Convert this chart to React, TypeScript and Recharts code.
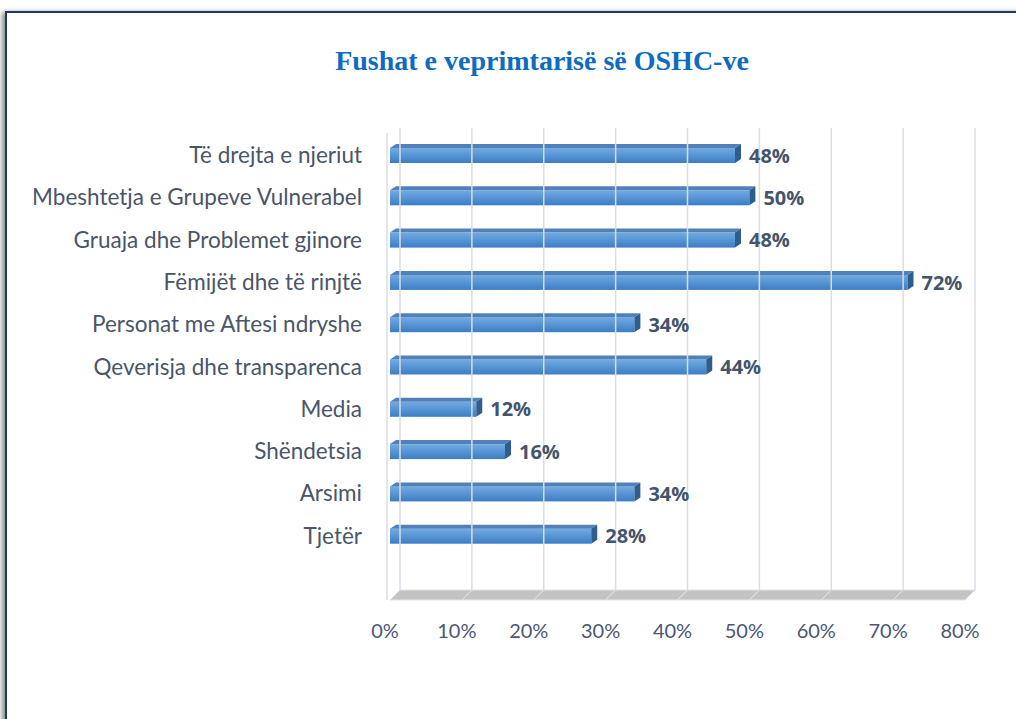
import React from 'react';
import { BarChart, Bar, XAxis, YAxis, LabelList, ReferenceArea, ReferenceLine } from 'recharts';

const categories = [
  'Të drejta e njeriut',
  'Mbeshtetja e Grupeve Vulnerabel',
  'Gruaja dhe Problemet gjinore',
  'Fëmijët dhe të rinjtë',
  'Personat me Aftesi ndryshe',
  'Qeverisja dhe transparenca',
  'Media',
  'Shëndetsia',
  'Arsimi',
  'Tjetër ',
];
const values = [48, 50, 48, 72, 34, 44, 12, 16, 34, 28];
const xTicks = [0, 10, 20, 30, 40, 50, 60, 70, 80];
const title = 'Fushat e veprimtarisë së OSHC-ve';

const data = categories.map((name, i) => ({ name, value: values[i] }));

const DEPTH_X = 6;
const DEPTH_Y = 4;
const WALL_X = 10;
const PAD_TOP = 6;
const PAD_BOTTOM = 33;
const FLOOR_D = 10;
const FONT = "Lato, 'Open Sans', sans-serif";

const Bar3D = (props: any) => {
  const { x, y, width, height } = props;
  if (width <= 0) return null;
  return (
    <g>
      <rect x={x} y={y} width={width} height={height} fill="url(#barFront)" />
      <polygon
        points={`${x},${y} ${x + DEPTH_X},${y - DEPTH_Y} ${x + width + DEPTH_X},${y - DEPTH_Y} ${x + width},${y}`}
        fill="#5281b8"
      />
      <polygon
        points={`${x + width},${y} ${x + width + DEPTH_X},${y - DEPTH_Y} ${x + width + DEPTH_X},${y + height - DEPTH_Y} ${x + width},${y + height}`}
        fill="#2f5d8e"
      />
    </g>
  );
};

const WallLine = (props: any) => {
  const { x1, y1, x2, y2 } = props;
  return <line x1={x1 + WALL_X} y1={y1} x2={x2 + WALL_X} y2={y2} stroke="#d9dde4" strokeWidth={1.5} />;
};

const SideLine = (props: any) => {
  const { x1, y1, x2, y2 } = props;
  const top = Math.min(y1, y2) + 5;
  const bottom = Math.max(y1, y2) + FLOOR_D;
  return <line x1={x1 - 3} y1={top} x2={x2 - 3} y2={bottom} stroke="#d9dde4" strokeWidth={1.5} />;
};

const FloorSeg = (props: any) => {
  const { x, y, width, height } = props;
  const back = y + height + PAD_BOTTOM;
  const front = back + FLOOR_D;
  return (
    <polygon
      points={`${x + WALL_X},${back} ${x + width + WALL_X},${back} ${x + width},${front} ${x},${front}`}
      fill="#c3c3c3"
      stroke="#e4e4e4"
      strokeWidth={1}
    />
  );
};

const XTick = (props: any) => {
  const { x, y, payload } = props;
  return (
    <text x={x - 5} y={y} dy="0.71em" textAnchor="middle" fill="#4a5872" fontSize={20} fontFamily={FONT}>
      {payload.value}%
    </text>
  );
};

const YTick = (props: any) => {
  const { x, y, payload } = props;
  return (
    <text x={x} y={y} dy="0.35em" textAnchor="end" fill="#4a5568" fontSize={22.5} fontFamily={FONT}>
      {payload.value}
    </text>
  );
};

export default function App() {
  return (
    <div style={{ position: 'absolute', left: 0, top: 0, width: 1016, height: 719, background: '#fff', overflow: 'hidden' }}>
      <div
        style={{
          position: 'absolute',
          left: 5,
          top: 11,
          width: 1200,
          height: 900,
          borderTop: '2px solid #1f3864',
          borderLeft: '2px solid #1f3864',
          boxShadow: '-3px 1px 5px rgba(0,0,0,0.45)',
          background: '#fff',
        }}
      />
      <div
        style={{
          position: 'absolute',
          left: 0,
          top: 45,
          width: 1084,
          textAlign: 'center',
          fontFamily: "'Liberation Serif', 'Times New Roman', serif",
          fontWeight: 'bold',
          fontSize: 28,
          color: '#0e6cbe',
        }}
      >
        {title}
      </div>
      <div style={{ position: 'absolute', left: 0, top: 0 }}>
        <BarChart
          width={1016}
          height={719}
          data={data}
          layout="vertical"
          margin={{ top: 128, right: 51, bottom: 89, left: 10 }}
        >
          <defs>
            <linearGradient id="barFront" x1="0" y1="0" x2="0" y2="1">
              <stop offset="0%" stopColor="#72abe3" />
              <stop offset="100%" stopColor="#3c7dc4" />
            </linearGradient>
          </defs>
          <ReferenceLine x={0} ifOverflow="visible" shape={SideLine} />
          {xTicks.map((v) => (
            <ReferenceLine key={`g${v}`} x={v} ifOverflow="visible" shape={WallLine} />
          ))}
          {xTicks.slice(0, -1).map((v, i) => (
            <ReferenceArea key={`f${v}`} x1={v} x2={xTicks[i + 1]} ifOverflow="visible" shape={FloorSeg} />
          ))}
          <XAxis
            type="number"
            domain={[0, 80]}
            ticks={xTicks}
            axisLine={false}
            tickLine={false}
            tickMargin={28}
            height={40}
            tick={<XTick />}
          />
          <YAxis
            type="category"
            dataKey="name"
            width={380}
            axisLine={false}
            tickLine={false}
            tickMargin={22}
            padding={{ top: PAD_TOP, bottom: PAD_BOTTOM }}
            tick={<YTick />}
          />
          <Bar dataKey="value" barSize={15} shape={<Bar3D />} isAnimationActive={false}>
            <LabelList
              dataKey="value"
              position="right"
              offset={14}
              formatter={(v: any) => `${v}%`}
              style={{ fill: '#44546a', fontWeight: 'bold', fontSize: 20, fontFamily: "'Open Sans', sans-serif" }}
            />
          </Bar>
        </BarChart>
      </div>
    </div>
  );
}
